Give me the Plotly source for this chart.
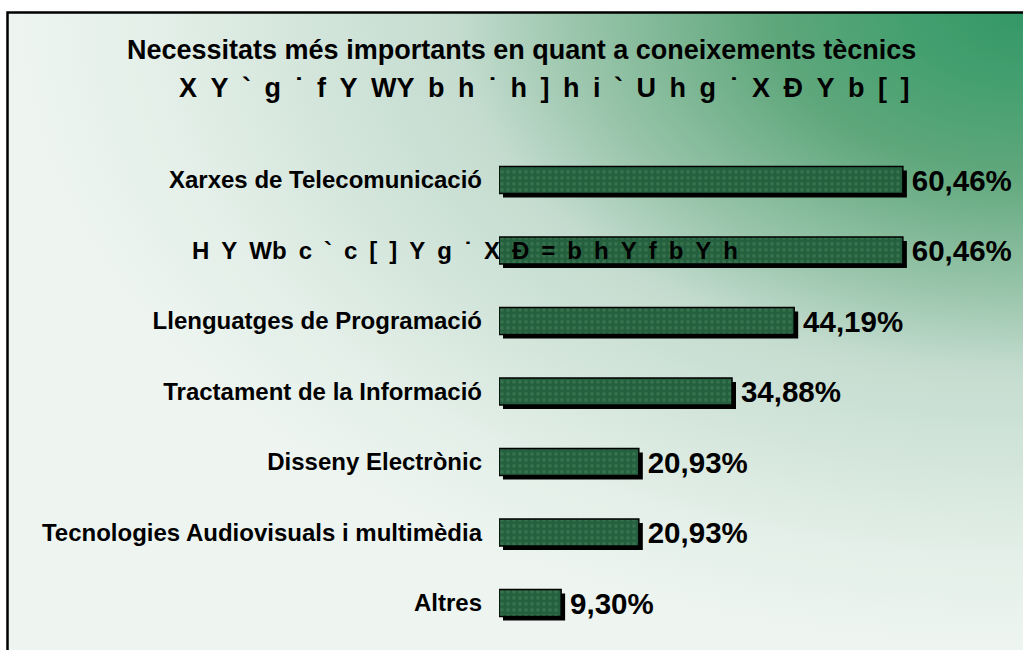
import base64
import plotly.graph_objects as go

# ---- data ----
categories = [
    "Xarxes de Telecomunicació",
    "H Y Wb c ` c [ ] Y g ˙ X Đ = b h Y f b Y h",
    "Llenguatges de Programació",
    "Tractament de la Informació",
    "Disseny Electrònic",
    "Tecnologies Audiovisuals i multimèdia",
    "Altres",
]
values = [60.46, 60.46, 44.19, 34.88, 20.93, 20.93, 9.30]
value_labels = ["60,46%", "60,46%", "44,19%", "34,88%", "20,93%", "20,93%", "9,30%"]
title_line1 = "Necessitats més importants en quant a coneixements tècnics"
title_line2 = "X Y ` g ˙ f Y WY b h ˙ h ] h i ` U h g ˙ X Đ Y b [ ]"
overflow_label_index = 1

W, H = 1023, 650
FONT = "Liberation Sans, Arial, sans-serif"
EN = "\u2002"

# background gradient (radial from top-right corner)
svg = (
    '<svg xmlns="http://www.w3.org/2000/svg" width="1016" height="640" preserveAspectRatio="none">'
    '<defs><radialGradient id="g" gradientUnits="objectBoundingBox" cx="1" cy="0" r="1" fx="1" fy="0">'
    '<stop offset="0" stop-color="#359766"/>'
    '<stop offset="0.12" stop-color="#45a070"/>'
    '<stop offset="0.25" stop-color="#5fa77c"/>'
    '<stop offset="0.45" stop-color="#9dc7ae"/>'
    '<stop offset="0.56" stop-color="#c4dccf"/>'
    '<stop offset="0.85" stop-color="#e3efe8"/>'
    '<stop offset="1" stop-color="#eef5f1"/>'
    '</radialGradient></defs>'
    '<rect x="0" y="0" width="1016" height="640" fill="url(#g)"/></svg>'
)
svg_uri = "data:image/svg+xml;base64," + base64.b64encode(svg.encode("utf-8")).decode("ascii")

px_per_unit = 6.68
x_left_px = 499
xmax = (W - x_left_px) / px_per_unit
row_px = 70.5
bar_w = 27 / row_px
shadow_dx = 4 / px_per_unit
shadow_dy = 4 / row_px

fig = go.Figure()

# shadow bars
fig.add_trace(go.Bar(
    y=categories, x=values, base=shadow_dx, orientation="h",
    width=bar_w, offset=-bar_w / 2 + shadow_dy,
    marker=dict(color="black", line=dict(width=0)),
    hoverinfo="skip", showlegend=False,
))
# main textured bars with value labels
fig.add_trace(go.Bar(
    y=categories, x=values, orientation="h",
    width=bar_w, offset=-bar_w / 2,
    marker=dict(
        color="#24603d",
        line=dict(color="black", width=1.5),
        pattern=dict(shape=".", fgcolor="#4a8660", bgcolor="#24603d", size=6, solidity=0.3),
    ),
    text=value_labels, texttemplate="\u2009%{text}", textposition="outside", constraintext="none",
    textfont=dict(family=FONT, size=29.5, color="black", weight="bold"),
    cliponaxis=False, showlegend=False,
))

ticktext = [("" if i == overflow_label_index else c) for i, c in enumerate(categories)]

fig.update_layout(
    width=W, height=H,
    margin=dict(l=0, r=0, t=0, b=0),
    paper_bgcolor="white",
    plot_bgcolor="rgba(0,0,0,0)",
    barmode="overlay",
    xaxis=dict(domain=[x_left_px / W, 1.0], range=[0, xmax], visible=False),
    yaxis=dict(
        domain=[1 - 638.25 / H, 1 - 144.75 / H],
        range=[len(categories) - 0.5, -0.5],
        tickmode="array", tickvals=categories, ticktext=ticktext,
        showgrid=False, zeroline=False, showline=False, ticks="",
        ticklabelstandoff=16,
        tickfont=dict(family=FONT, size=24, color="black", weight="bold"),
    ),
    images=[dict(
        source=svg_uri, xref="paper", yref="paper",
        x=7 / W, y=1 - 12 / H, sizex=1016 / W, sizey=640 / H,
        xanchor="left", yanchor="top", sizing="stretch", layer="below",
    )],
    shapes=[dict(
        type="rect", xref="paper", yref="paper",
        x0=7.5 / W, x1=1.05, y0=-0.05, y1=1 - 12.5 / H,
        line=dict(color="black", width=2.5), fillcolor="rgba(0,0,0,0)",
    )],
    annotations=[
        dict(text=title_line1, xref="paper", yref="paper", x=521.5 / W, y=1 - 50 / H,
             xanchor="center", yanchor="middle", showarrow=False,
             font=dict(family=FONT, size=27, color="black", weight="bold")),
        dict(text=title_line2.replace(" ", EN), xref="paper", yref="paper", x=543.5 / W, y=1 - 88 / H,
             xanchor="center", yanchor="middle", showarrow=False,
             font=dict(family=FONT, size=27, color="black", weight="bold")),
        dict(text=categories[overflow_label_index].replace(" ", EN), xref="paper", yref="y",
             x=190 / W, y=categories[overflow_label_index],
             xanchor="left", yanchor="middle", showarrow=False,
             font=dict(family=FONT, size=24, color="black", weight="bold")),
    ],
)

fig.write_html("out.html", config={"displayModeBar": False},
               post_script="document.body.style.margin='0px';")
